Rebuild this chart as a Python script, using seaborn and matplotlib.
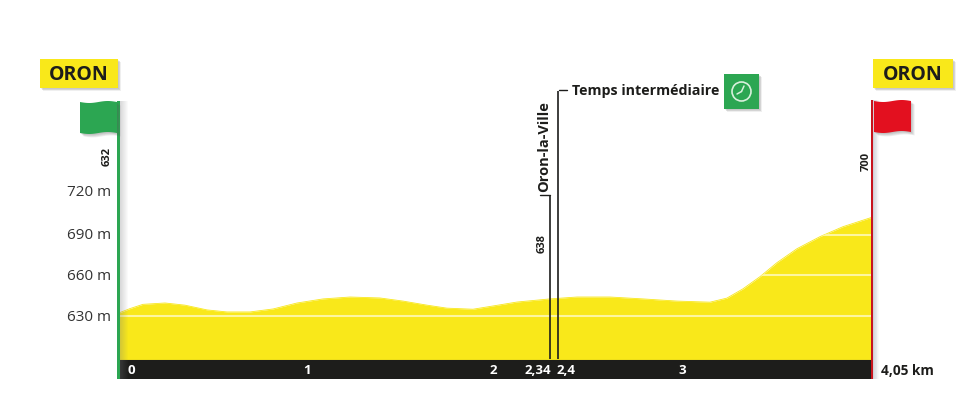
import numpy as np
import pandas as pd
import matplotlib
matplotlib.use('Agg')
import matplotlib.pyplot as plt
from matplotlib.patches import Rectangle, Polygon, Circle
from matplotlib.transforms import ScaledTranslation
import seaborn as sns

# profil
km = [0, .065, .134, .253, .360, .479, .586, .710, .834, .963, 1.103, 1.248, 1.409, 1.533, 1.662, 1.769, 1.909,
      2.017, 2.146, 2.323, 2.469, 2.592, 2.646, 2.824, 3.006, 3.184, 3.275, 3.361, 3.453, 3.544, 3.652, 3.776, 3.899, 4.05]
alt = [632, 635.5, 638.6, 639.6, 638, 634.5, 633, 633, 635.2, 639.6, 642.6, 644, 643.3, 641, 638, 635.8, 635,
       637.4, 640.3, 642.6, 644, 644, 644, 642.6, 641, 640.2, 643.2, 650, 659, 669.3, 679.6, 688.5, 695.8, 702.5]
grid_alt = [630, 660, 690]
ytick_pos = [630, 660, 690, 721.5]
ytick_labels = ['630 m', '660 m', '690 m', '720 m']
xtick_pos = [.07, 1.017, 2.017, 2.259, 2.41, 3.033]
xtick_labels = ['0', '1', '2', '2,34', '2,4', '3']
marker_km = [2.326, 2.369]
marker_top = [718.4, 795.8]

YELLOW = '#f9e81a'
GREEN = '#2ca652'
RED = '#e3101f'
BLACK = '#1d1d1b'

sns.set_theme(style='white')
plt.rcParams['font.family'] = ['Open Sans', 'DejaVu Sans']

W, H = 972, 414
fig = plt.figure(figsize=(W / 100, H / 100), dpi=100)
ax = fig.add_axes([118 / W, 1 - 380 / H, (871 - 118) / W, (380 - 102) / H])

df = pd.DataFrame({'km': km, 'alt': alt})
base = 598
ax.axhspan(583.6, base, color=BLACK, lw=0)
area = ax.fill_between(df['km'], base, df['alt'], color=YELLOW, lw=0)
sns.lineplot(data=df, x='km', y='alt', ax=ax, color=YELLOW, lw=0.6)
for g in grid_alt:
    l = ax.axhline(g, color='#fdf6a0', lw=1.5)
    l.set_clip_path(area.get_paths()[0], ax.transData)
ax.vlines(marker_km, base, marker_top, color=BLACK, lw=1.2, clip_on=False)

ax.set_xlim(0, 4.05)
ax.set_ylim(583.6, 788.4)
ax.set_xlabel('')
ax.set_ylabel('')
ax.set_axisbelow(False)
ax.set_xticks(xtick_pos, xtick_labels, fontweight='bold', color='white', fontsize=9.5)
ax.set_yticks(ytick_pos, ytick_labels, color='#333333', fontsize=11, va='center_baseline')
ax.tick_params(axis='x', length=0, pad=-11.7)
ax.tick_params(axis='y', length=0, pad=5)
for t in ax.get_yticklabels():
    t.set_transform(t.get_transform() + ScaledTranslation(0, 2 / 100, fig.dpi_scale_trans))
for s in ax.spines.values():
    s.set_visible(False)
ax.patch.set_alpha(0)

# habillage en pixels
ov = fig.add_axes([0, 0, 1, 1])
ov.set_xlim(0, W)
ov.set_ylim(H, 0)
ov.axis('off')

# ombres le long des mâts
for i in range(8):
    ov.add_patch(Rectangle((120 + i, 102), 1, 278, color='#77777a', alpha=0.28 * (1 - i / 8), lw=0))
    ov.add_patch(Rectangle((873 + i * .7, 101), .7, 279, color='#8a8a9a', alpha=0.4 * (1 - i / 8), lw=0))
ov.add_patch(Rectangle((117, 102), 3, 278, color=GREEN, lw=0))
ov.add_patch(Rectangle((871, 101), 2, 279, color='#c8141e', lw=0))


def shadow_box(x0, y0, x1, y1, color):
    for i in range(4):
        ov.add_patch(Rectangle((x0 + 1 + i * .5, y0 + 1 + i * .5), x1 - x0, y1 - y0, color='#555555', alpha=.09, lw=0))
    ov.add_patch(Rectangle((x0, y0), x1 - x0, y1 - y0, color=color, lw=0))


def flag(x0, x1, y0, y1, color, sx):
    t = np.linspace(0, 1, 30)
    w = 1.0 * np.sin(t * 2 * np.pi)
    xs = x0 + (x1 - x0) * t
    pts = np.r_[np.c_[xs, y0 + w], np.c_[xs[::-1], y1 + w[::-1]]]
    for i in range(4):
        ov.add_patch(Polygon(pts + [sx * (i + 1) * .9, 1 + i * .8], color='#555555', alpha=.1, lw=0))
    ov.add_patch(Polygon(pts, color=color, lw=0))


shadow_box(40, 60, 118, 89, YELLOW)
shadow_box(873, 60, 953, 89, YELLOW)
ov.text(78.5, 75, 'ORON', ha='center', va='center', fontsize=14, fontweight='bold', color=BLACK)
ov.text(912.5, 75, 'ORON', ha='center', va='center', fontsize=14, fontweight='bold', color=BLACK)

flag(80, 117, 103, 134, GREEN, 1)
flag(874, 911, 102, 133, RED, 1)

ov.text(107.5, 157, '632', rotation=90, ha='center', va='center', fontsize=8, fontweight='bold', color=BLACK)
ov.text(866, 161, '700', rotation=90, ha='center', va='center', fontsize=8, fontweight='bold', color=BLACK)
ov.text(542, 244, '638', rotation=90, ha='center', va='center', fontsize=8, fontweight='bold', color=BLACK)
ov.text(544.5, 147, 'Oron-la-Ville', rotation=90, ha='center', va='center', fontsize=10.5, fontweight='bold', color=BLACK)
ov.plot([540, 550.4], [196, 196], color=BLACK, lw=1)
ov.plot([558.5, 567], [91, 91], color=BLACK, lw=1)
ov.text(572, 91, 'Temps intermédiaire', ha='left', va='center', fontsize=10.3, fontweight='bold', color=BLACK)
ov.text(881, 371, '4,05 km', ha='left', va='center', fontsize=9.8, fontweight='bold', color=BLACK)

# badge chrono
shadow_box(724, 75, 759, 110, GREEN)
ov.add_patch(Circle((741.5, 92.5), 9.5, fill=False, ec='#d8f0dc', lw=1.2))
ov.plot([741.5, 744], [92.5, 87], color='#d8f0dc', lw=1.1)
ov.plot([741.5, 737], [92.5, 95], color='#d8f0dc', lw=1.1)

fig.savefig('out.png', dpi=100)
